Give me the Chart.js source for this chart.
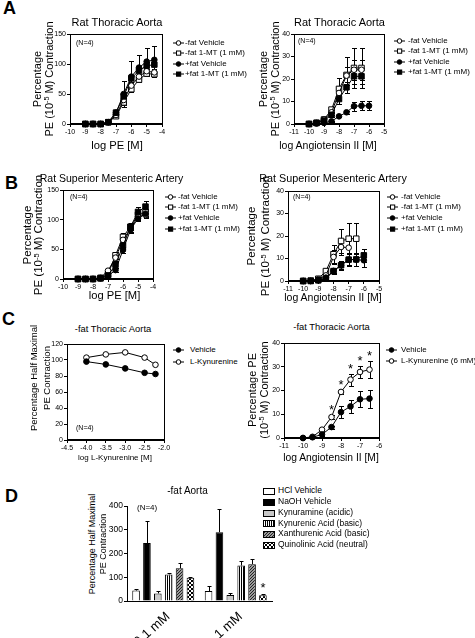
<!DOCTYPE html>
<html>
<head>
<meta charset="utf-8">
<script src="https://cdn.jsdelivr.net/npm/chart.js@4.4.1/dist/chart.umd.min.js"></script>
<style>
  html, body { margin: 0; padding: 0; background: #fff; }
  #fig { position: relative; width: 475px; height: 638px; overflow: hidden;
         font-family: Arial, 'Liberation Sans', Helvetica, sans-serif; color: #000; }
  #fig canvas { position: absolute; }
  .t { position: absolute; white-space: nowrap; line-height: 1.15; transform: translate(-50%, -50%); }
  .v { position: absolute; white-space: nowrap; line-height: 1.15; transform: translate(-50%, -50%) rotate(-90deg); }
  .l { position: absolute; white-space: nowrap; line-height: 1.15; transform: translateY(-50%); }
  .p { position: absolute; font-weight: bold; font-size: 18px; line-height: 1.15; }
  sup { font-size: 0.65em; line-height: 0; vertical-align: 0.5em; }
</style>
</head>
<body>
<div id="fig"></div>
<script>
const FONT = "Arial, 'Liberation Sans', sans-serif";
const fig = document.getElementById('fig');

// ---- series names
const abSeries = ['-fat Vehicle', '-fat 1-MT (1 mM)', '+fat Vehicle', '+fat 1-MT (1 mM)'];
const cLeftSeries = ['Vehicle', 'L-Kynurenine'];
const cRightSeries = ['Vehicle', 'L-Kynurenine (6 mM)'];
const dSeries = ['HCl Vehicle', 'NaOH Vehicle', 'Kynuramine (acidic)', 'Kynurenic Acid (basic)',
                 'Xanthurenic Acid (basic)', 'Quinolinic Acid (neutral)'];
const dGroups = ['0.1 mM', '1 mM'];

// ---- A left: PE, thoracic aorta
const aLeftX = [-9, -8.5, -8, -7.5, -7, -6.5, -6, -5.5, -5, -4.5];
const aLeftNegVeh    = [0, 0, 0, 3, 15, 40, 64, 79, 88, 86];
const aLeftNegVehErr = [0, 0, 0, 0.5, 2, 4, 5, 4, 4, 4];
const aLeftNeg1MT    = [0, 0, 0, 3, 13, 36, 58, 74, 84, 83];
const aLeftNeg1MTErr = [0, 0, 0, 0.5, 2, 4, 4, 4, 4, 4];
const aLeftPosVeh    = [0, 0, 0, 3, 19, 50, 79, 94, 104, 107];
const aLeftPosVehErr = [0, 0, 0, 0.5, 4, 22, 26, 21, 22, 23];
const aLeftPos1MT    = [0, 0, 0, 3, 19, 46, 76, 89, 97, 99];
const aLeftPos1MTErr = [0, 0, 0, 0.5, 3, 8, 6, 5, 6, 8];

// ---- A right: angiotensin II, thoracic aorta
const aRightX = [-10, -9.5, -9, -8.5, -8, -7.5, -7, -6.5];
const aRightPosVehX = [-10, -9.5, -9, -8.5, -8, -7.5, -7, -6.5, -6];
const aRightNegVeh    = [0, 0.5, 2, 5.2, 13.8, 21.5, 24.1, 24.1];
const aRightNegVehErr = [0, 0.3, 0.5, 1, 3, 4, 4.5, 4.5];
const aRightNeg1MT    = [0, 0.5, 2, 6.4, 15.6, 21.8, 24.9, 24.9];
const aRightNeg1MTErr = [0, 0.3, 0.5, 1, 5, 8, 8.9, 8.9];
const aRightPosVeh    = [0, 0.2, 0.5, 1.2, 3.4, 5.2, 7.9, 8.1, 8.1];
const aRightPosVehErr = [0, 0, 0.2, 0.3, 0.5, 0.7, 2, 2, 2];
const aRightPos1MT    = [0, 0.5, 1.5, 4.1, 11.1, 16.3, 21.2, 21.2];
const aRightPos1MTErr = [0, 0.3, 0.5, 1, 2, 2.5, 3.5, 3.5];

// ---- B left: PE, superior mesenteric artery
const bLeftX = [-9, -8.5, -8, -7.5, -7, -6.5, -6, -5.5, -5, -4.5];
const bLeftNegVeh    = [0, 0, 0, 2, 14, 36, 66, 85, 105, 108];
const bLeftNegVehErr = [0, 0, 0, 0.5, 3, 5, 5, 6, 6, 6];
const bLeftNeg1MT    = [0, 0, 0, 2, 8, 40, 71, 88, 108, 112];
const bLeftNeg1MTErr = [0, 0, 0, 0.5, 2, 6, 6, 5, 6, 6];
const bLeftPosVeh    = [0, 0, 0, 1, 5, 15, 49, 83, 102, 110];
const bLeftPosVehErr = [0, 0, 0, 0.5, 2, 4, 5, 5, 5, 6];
const bLeftPos1MT    = [0, 0, 0, 1, 6, 24, 56, 88, 113, 122];
const bLeftPos1MTErr = [0, 0, 0, 0.5, 2, 5, 6, 6, 9, 10];

// ---- B right: angiotensin II, superior mesenteric artery
const bRightX = [-10, -9.5, -9, -8.5, -8, -7.5, -7, -6.5, -6];
const bRightNegVehX = [-10, -9.5, -9, -8.5, -8, -7.5, -7];
const bRightNeg1MTX = [-10, -9.5, -9, -8.5, -8, -7.5, -7, -6.5];
const bRightNegVeh    = [0, 0, 0.8, 2.5, 10.7, 15.1, 14.8];
const bRightNegVehErr = [0, 0.2, 0.5, 1, 3, 3.5, 4];
const bRightNeg1MT    = [0, 0.2, 1, 4.4, 11.9, 17.8, 18.8, 18.8];
const bRightNeg1MTErr = [0, 0.2, 0.5, 1, 4, 5.5, 7, 7];
const bRightPosVeh    = [0, 0, 0.3, 1.5, 4.5, 7, 9.5, 9.5, 9.2];
const bRightPosVehErr = [0, 0, 0.2, 0.5, 1, 1.5, 2.5, 3, 3];
const bRightPos1MT    = [0, 0, 0.3, 1, 4.4, 7, 9.5, 9.6, 11.4];
const bRightPos1MTErr = [0, 0, 0.2, 0.5, 1.5, 2, 3, 3, 3];

// ---- C left: half maximal PE vs L-kynurenine
const cLeftX = [-4.0, -3.5, -3.0, -2.5, -2.22];
const cLeftVeh = [98, 94.5, 89.5, 84, 82.5];
const cLeftKyn = [103, 107, 109.5, 103, 94];

// ---- C right: angiotensin II with L-kynurenine
const cRightX = [-10, -9.5, -9, -8.5, -8, -7.5, -7, -6.5];
const cRightVeh    = [0, 0.3, 1.5, 4.6, 10.9, 13.3, 16.3, 16.6];
const cRightVehErr = [0, 0.2, 0.5, 0.6, 2.6, 2.8, 3.4, 3.8];
const cRightKyn    = [0, 0.5, 3.5, 8.8, 19.4, 24.6, 27.8, 28.8];
const cRightKynErr = [0, 0.2, 0.5, 1, 1, 2.5, 2.7, 3.7];
const cRightStarX  = [-8.5, -8, -7.5, -7, -6.5];

// ---- D: bars, -fat aorta
const dHCl            = [44, 42];
const dHClErr         = [6, 20];
const dNaOH           = [244, 290];
const dNaOHErr        = [91, 97];
const dKynuramine     = [32, 25];
const dKynuramineErr  = [9, 9];
const dKynurenic      = [112, 149];
const dKynurenicErr   = [5, 20];
const dXanthurenic    = [138, 155];
const dXanthurenicErr = [24, 22];
const dQuinolinic     = [98, 24];
const dQuinolinicErr  = [3, 5];
const dStarBars = [[5, 1]]; // [dataset, group]

// ---------------------------------------------------------------- helpers
function text(cls, html, x, y, size) {
  const d = document.createElement('div');
  d.className = cls;
  d.innerHTML = html;
  d.style.left = x + 'px';
  d.style.top = y + 'px';
  if (size) d.style.fontSize = size + 'px';
  fig.appendChild(d);
  return d;
}

function makeCanvas(area, yW, xH, padT, padR) {
  const c = document.createElement('canvas');
  const w = area.r - area.l + yW + padR;
  const h = area.b - area.t + padT + xH;
  c.width = w; c.height = h;
  c.style.width = w + 'px'; c.style.height = h + 'px';
  c.style.left = (area.l - yW) + 'px';
  c.style.top = (area.t - padT) + 'px';
  fig.appendChild(c);
  return c;
}

function linAxis(min, max, step, size, fit, fmt) {
  return {
    type: 'linear', min, max,
    afterFit: fit,
    ticks: { stepSize: step, autoSkip: false, maxRotation: 0, color: '#000', padding: 1,
             font: { family: FONT, size }, callback: fmt || (v => v) },
    grid: { display: true, drawOnChartArea: false, drawTicks: true, tickLength: 3, color: '#000', lineWidth: 1 },
    border: { display: true, color: '#000', width: 1 },
  };
}

const framePlugin = {
  id: 'frame',
  beforeDatasetsDraw(chart) {
    const { ctx, chartArea: a } = chart;
    ctx.save();
    ctx.strokeStyle = '#000';
    ctx.lineWidth = 1;
    ctx.strokeRect(Math.round(a.left) + 0.5, Math.round(a.top) + 0.5,
                   Math.round(a.right - a.left), Math.round(a.bottom - a.top) - 1);
    ctx.restore();
  },
};

const errorBarPlugin = {
  id: 'errorBars',
  beforeDatasetsDraw(chart) {
    const { ctx } = chart;
    const y = chart.scales.y;
    ctx.save();
    ctx.strokeStyle = '#000';
    ctx.lineWidth = 1;
    chart.data.datasets.forEach((ds, i) => {
      if (!ds.errors) return;
      const meta = chart.getDatasetMeta(i);
      meta.data.forEach((el, j) => {
        const e = ds.errors[j];
        if (!e) return;
        const raw = ds.data[j];
        const v = typeof raw === 'object' ? raw.y : raw;
        const px = Math.round(el.x) + 0.5;
        const top = Math.round(y.getPixelForValue(v + e)) + 0.5;
        const bot = ds.errorUpOnly ? el.y : Math.round(y.getPixelForValue(Math.max(v - e, 0))) + 0.5;
        const cap = ds.capHalf || 2.5;
        ctx.beginPath();
        ctx.moveTo(px, bot); ctx.lineTo(px, top);
        ctx.moveTo(px - cap, top); ctx.lineTo(px + cap, top);
        if (!ds.errorUpOnly) { ctx.moveTo(px - cap, bot); ctx.lineTo(px + cap, bot); }
        ctx.stroke();
      });
    });
    ctx.restore();
  },
};

function starPlugin(pairs, size, lift) {
  return {
    id: 'stars',
    afterDatasetsDraw(chart) {
      const { ctx } = chart;
      const y = chart.scales.y;
      ctx.save();
      ctx.fillStyle = '#000';
      ctx.font = `${size}px ${FONT}`;
      ctx.textAlign = 'center';
      ctx.textBaseline = 'alphabetic';
      pairs.forEach(([di, j]) => {
        const ds = chart.data.datasets[di];
        const el = chart.getDatasetMeta(di).data[j];
        const raw = ds.data[j];
        const v = typeof raw === 'object' ? raw.y : raw;
        const top = y.getPixelForValue(v + (ds.errors ? ds.errors[j] : 0));
        ctx.fillText('*', el.x, top - lift);
      });
      ctx.restore();
    },
  };
}

function series(xs, ys, errs, shape, filled) {
  return {
    data: xs.map((x, i) => ({ x, y: ys[i] })),
    errors: errs,
    borderColor: '#000',
    borderWidth: 1,
    pointStyle: shape === 'square' ? 'rect' : 'circle',
    pointRadius: shape === 'square' ? 3.9 : 2.8,
    pointBackgroundColor: filled ? '#000' : '#fff',
    pointBorderColor: '#000',
    pointBorderWidth: 1,
    fill: false,
    tension: 0,
    clip: false,
  };
}

function makeXY(area, datasets, xr, yr, opts = {}) {
  const yW = 30, xH = 16, padT = 8, padR = 8;
  const c = makeCanvas(area, yW, xH, padT, padR);
  return new Chart(c.getContext('2d'), {
    type: 'line',
    data: { datasets },
    options: {
      responsive: false, animation: false, events: [],
      layout: { padding: { top: padT, right: padR, left: 0, bottom: 0 } },
      plugins: { legend: { display: false }, tooltip: { enabled: false } },
      scales: {
        x: linAxis(xr[0], xr[1], xr[2], 7, s => { s.height = xH; }, opts.xFmt),
        y: linAxis(0, yr[0], yr[1], 7, s => { s.width = yW; }),
      },
    },
    plugins: [framePlugin, errorBarPlugin].concat(opts.plugins || []),
  });
}

function markerSvg(shape, filled) {
  const fill = filled ? '#000' : '#fff';
  const m = shape === 'circle'
    ? `<circle cx="5.5" cy="4" r="2.3" fill="${fill}" stroke="#000" stroke-width="1"/>`
    : `<rect x="3.5" y="2" width="4.2" height="4.2" fill="${fill}" stroke="#000" stroke-width="1"/>`;
  return `<svg width="11" height="8" style="display:block"><line x1="0" y1="4" x2="11" y2="4" stroke="#000" stroke-width="1"/>${m}</svg>`;
}

function xyLegend(names, marks, mx, tx, ys, size) {
  names.forEach((n, i) => {
    const s = document.createElement('div');
    s.style.position = 'absolute';
    s.style.left = mx + 'px';
    s.style.top = (ys[i] - 4) + 'px';
    s.innerHTML = markerSvg(marks[i][0], marks[i][1]);
    fig.appendChild(s);
    text('l', n, tx, ys[i], size);
  });
}

const abMarks = [['circle', false], ['square', false], ['circle', true], ['square', true]];
const cMarks = [['circle', true], ['circle', false]];
const yTitleAB = 'PE (10<sup>-5</sup> M) Contraction';

// ---------------------------------------------------------------- panel A
makeXY({ l: 70, t: 34, r: 162, b: 124 }, [
  series(aLeftX, aLeftPosVeh, aLeftPosVehErr, 'circle', true),
  series(aLeftX, aLeftPos1MT, aLeftPos1MTErr, 'square', true),
  series(aLeftX, aLeftNegVeh, aLeftNegVehErr, 'circle', false),
  series(aLeftX, aLeftNeg1MT, aLeftNeg1MTErr, 'square', false),
], [-10, -4, 1], [150, 50]);

makeXY({ l: 294, t: 34, r: 384, b: 124 }, [
  series(aRightPosVehX, aRightPosVeh, aRightPosVehErr, 'circle', true),
  series(aRightX, aRightPos1MT, aRightPos1MTErr, 'square', true),
  series(aRightX, aRightNegVeh, aRightNegVehErr, 'circle', false),
  series(aRightX, aRightNeg1MT, aRightNeg1MTErr, 'square', false),
], [-11, -5, 1], [40, 10]);

// ---------------------------------------------------------------- panel B
makeXY({ l: 63, t: 190, r: 153, b: 279 }, [
  series(bLeftX, bLeftPosVeh, bLeftPosVehErr, 'circle', true),
  series(bLeftX, bLeftPos1MT, bLeftPos1MTErr, 'square', true),
  series(bLeftX, bLeftNegVeh, bLeftNegVehErr, 'circle', false),
  series(bLeftX, bLeftNeg1MT, bLeftNeg1MTErr, 'square', false),
], [-10, -4, 1], [150, 50]);

makeXY({ l: 288, t: 191, r: 379, b: 281 }, [
  series(bRightX, bRightPosVeh, bRightPosVehErr, 'circle', true),
  series(bRightX, bRightPos1MT, bRightPos1MTErr, 'square', true),
  series(bRightNegVehX, bRightNegVeh, bRightNegVehErr, 'circle', false),
  series(bRightNeg1MTX, bRightNeg1MT, bRightNeg1MTErr, 'square', false),
], [-11, -5, 1], [40, 10]);

// ---------------------------------------------------------------- panel C
makeXY({ l: 67, t: 344, r: 164, b: 440 }, [
  series(cLeftX, cLeftVeh, null, 'circle', true),
  series(cLeftX, cLeftKyn, null, 'circle', false),
], [-4.5, -2.0, 0.5], [120, 20], { xFmt: v => v.toFixed(1) });

makeXY({ l: 284, t: 343, r: 379, b: 438 }, [
  series(cRightX, cRightVeh, cRightVehErr, 'circle', true),
  series(cRightX, cRightKyn, cRightKynErr, 'circle', false),
], [-11, -6, 1], [40, 10], {
  plugins: [starPlugin(cRightStarX.map(x => [1, cRightX.indexOf(x)]), 13, 1)],
});

// ---------------------------------------------------------------- panel D
const dData = [dHCl, dNaOH, dKynuramine, dKynurenic, dXanthurenic, dQuinolinic];
const dErr = [dHClErr, dNaOHErr, dKynuramineErr, dKynurenicErr, dXanthurenicErr, dQuinolinicErr];
const dFillKinds = ['white', 'black', 'gray', 'vstripe', 'hatch', 'check'];

function makeFill(kind, ctx) {
  if (kind === 'white') return '#fff';
  if (kind === 'black') return '#000';
  if (kind === 'gray') return '#c8c8c8';
  const c = document.createElement('canvas');
  const g = c.getContext('2d');
  if (kind === 'vstripe') {
    c.width = 2; c.height = 2;
    g.fillStyle = '#fff'; g.fillRect(0, 0, 2, 2);
    g.fillStyle = '#000'; g.fillRect(0, 0, 1, 2);
  } else if (kind === 'hatch') {
    c.width = 3; c.height = 3;
    g.fillStyle = '#9a9a9a'; g.fillRect(0, 0, 3, 3);
    g.fillStyle = '#222';
    for (let i = 0; i < 3; i++) g.fillRect(i, 2 - i, 1, 1);
  } else {
    c.width = 4; c.height = 4;
    g.fillStyle = '#fff'; g.fillRect(0, 0, 4, 4);
    g.fillStyle = '#000'; g.fillRect(0, 0, 2, 2); g.fillRect(2, 2, 2, 2);
  }
  return ctx.createPattern(c, 'repeat');
}

(function () {
  const area = { l: 127, t: 506, r: 272, b: 601 };
  const yW = 30, xH = 37, padT = 8, padR = 8;
  const c = makeCanvas(area, yW, xH, padT, padR);
  const ctx = c.getContext('2d');
  new Chart(ctx, {
    type: 'bar',
    data: {
      labels: dGroups,
      datasets: dSeries.map((name, i) => ({
        label: name,
        data: dData[i],
        errors: dErr[i],
        errorUpOnly: true,
        capHalf: 2,
        backgroundColor: makeFill(dFillKinds[i], ctx),
        borderColor: '#000',
        borderWidth: 1,
        barPercentage: 0.7,
        categoryPercentage: 0.9,
      })),
    },
    options: {
      responsive: false, animation: false, events: [],
      layout: { padding: { top: padT, right: padR, left: 0, bottom: 0 } },
      plugins: { legend: { display: false }, tooltip: { enabled: false } },
      scales: {
        x: {
          type: 'category', offset: true,
          afterFit: s => { s.height = xH; },
          ticks: { color: '#000', autoSkip: false, minRotation: 42, maxRotation: 42, padding: 0,
                   labelOffset: 5, font: { family: FONT, size: 13 } },
          grid: { display: false },
          border: { display: true, color: '#000', width: 1 },
        },
        y: linAxis(0, 400, 100, 8.5, s => { s.width = yW; }),
      },
    },
    plugins: [errorBarPlugin, starPlugin(dStarBars, 13, 2)],
  });

  // legend swatches
  const rows = [491, 502, 513, 523.5, 534, 545];
  dSeries.forEach((name, i) => {
    const sw = document.createElement('canvas');
    sw.width = 12; sw.height = 7;
    sw.style.left = '263px';
    sw.style.top = (rows[i] - 3.5) + 'px';
    fig.appendChild(sw);
    const g = sw.getContext('2d');
    g.fillStyle = makeFill(dFillKinds[i], g);
    g.fillRect(0, 0, 12, 7);
    g.strokeStyle = '#000';
    g.strokeRect(0.5, 0.5, 11, 6);
    text('l', name, 278, rows[i], 8.5);
  });
})();

// ---------------------------------------------------------------- texts
text('p', 'A', 3, -2);
text('p', 'B', 5, 173);
text('p', 'C', 2, 309);
text('p', 'D', 5, 486);

text('t', 'Rat Thoracic Aorta', 117, 22, 11);
text('t', 'Rat Thoracic Aorta', 339.5, 22, 11);
text('t', 'Rat Superior Mesenteric Artery', 111.5, 177.5, 10.5);
text('t', 'Rat Superior Mesenteric Artery', 333, 178, 10.8);
text('t', '-fat Thoracic Aorta', 113, 329, 9.4);
text('t', '-fat Thoracic Aorta', 331.5, 327, 9.4);
text('t', '-fat Aorta', 187.5, 491, 10);

text('t', 'log PE [M]', 117, 145, 11.2);
text('t', 'log Angiotensin II [M]', 328, 145, 10.5);
text('t', 'log PE [M]', 114.5, 295, 11.2);
text('t', 'log Angiotensin II [M]', 333, 297, 10.5);
text('t', 'log L-Kynurenine [M]', 115, 458, 8);
text('t', 'log Angiotensin II [M]', 331, 458, 10.3);

text('v', 'Percentage', 37, 79, 11);
text('v', yTitleAB, 48.5, 79, 11);
text('v', 'Percentage', 262.5, 79, 11);
text('v', yTitleAB, 275, 79, 11);
text('v', 'Percentage', 28, 235, 11.5);
text('v', yTitleAB, 39, 235, 11.5);
text('v', 'Percentage', 252, 236, 11.5);
text('v', yTitleAB, 265.5, 236, 11.5);
text('v', 'Percentage Half Maximal', 34, 378, 9.5);
text('v', 'PE Contraction', 46.5, 378, 9.5);
text('v', 'Percentage PE', 252, 390, 11);
text('v', '(10<sup>-5</sup> M) Contraction', 263.5, 390, 11);
text('v', 'Percentage Half Maximal', 92, 543.5, 9);
text('v', 'PE Contraction', 103, 543.5, 9);

text('l', '(N=4)', 76, 43, 7);
text('l', '(N=4)', 298, 41, 7);
text('l', '(N=4)', 70, 197, 7);
text('l', '(N=4)', 293, 197, 7);
text('l', '(N=4)', 76, 428, 7);
text('l', '(N=4)', 137, 508, 8);

xyLegend(abSeries, abMarks, 173, 185, [43, 53.3, 63.5, 74], 8);
xyLegend(abSeries, abMarks, 394, 408, [41, 51, 61.5, 71.7], 8);
xyLegend(abSeries, abMarks, 165, 178, [196.7, 207.3, 218.3, 229], 8);
xyLegend(abSeries, abMarks, 387, 401, [196.7, 207.3, 218.3, 229], 8);
xyLegend(cLeftSeries, cMarks, 173, 190, [350, 361.5], 8);
xyLegend(cRightSeries, cMarks, 386, 401, [350, 361], 8);
</script>
</body>
</html>
